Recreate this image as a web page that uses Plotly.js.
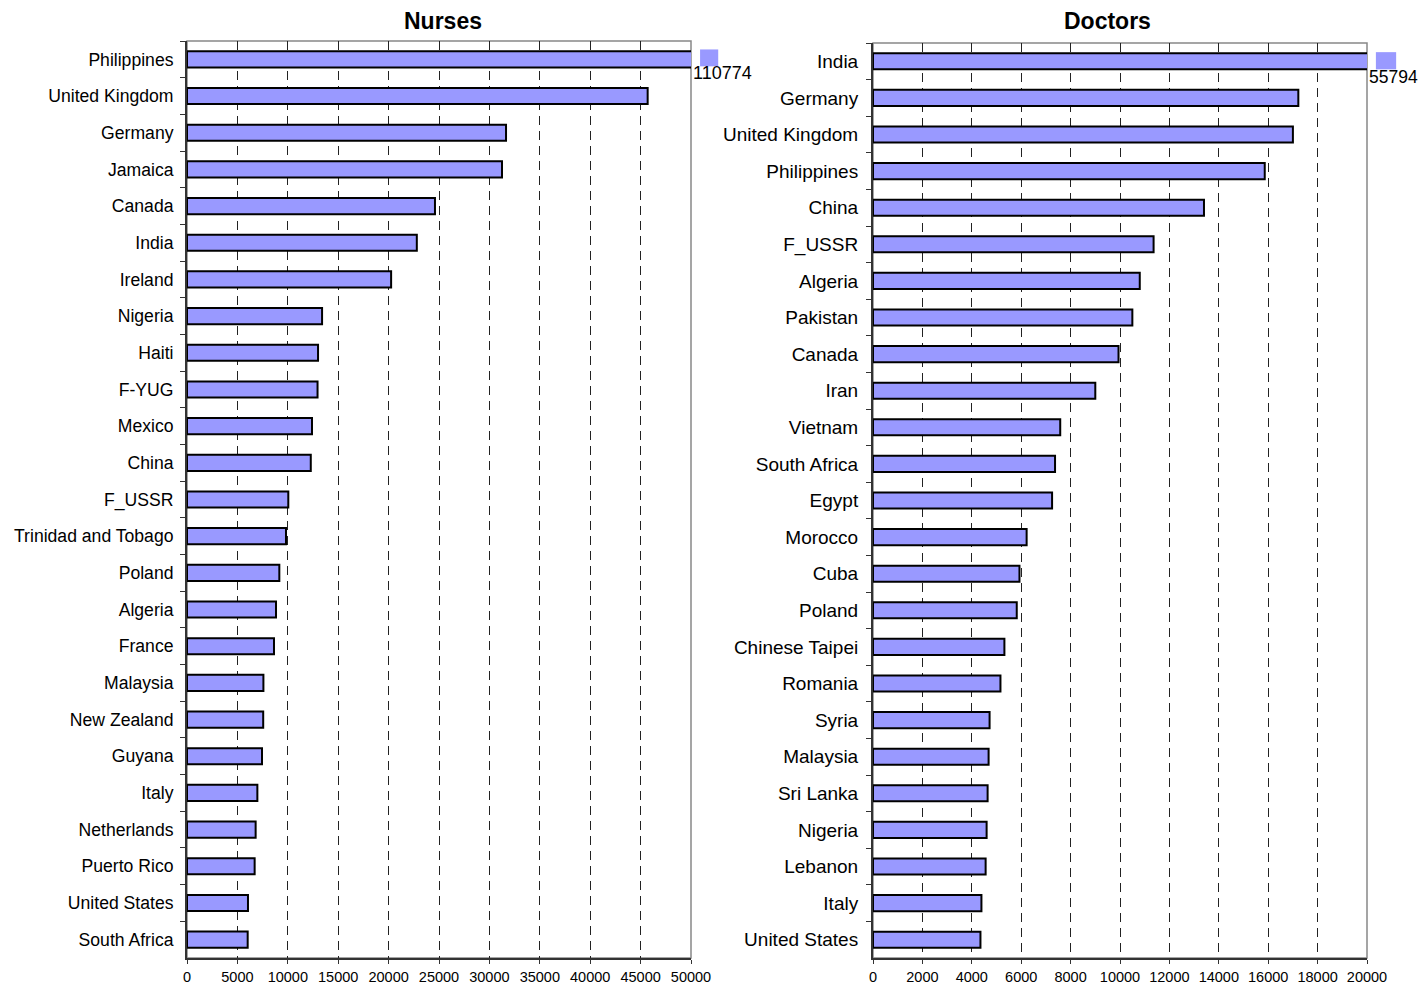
<!DOCTYPE html>
<html>
<head>
<meta charset="utf-8">
<script src="https://cdn.plot.ly/plotly-3.0.1.min.js"></script>
<style>html,body{margin:0;padding:0;background:#fff;}#chart{width:1420px;height:986px;}</style>
</head>
<body>
<div id="chart"></div>
<script>
// Nurses panel
const nurseCountries = ["Philippines","United Kingdom","Germany","Jamaica","Canada","India","Ireland","Nigeria","Haiti","F-YUG","Mexico","China","F_USSR","Trinidad and Tobago","Poland","Algeria","France","Malaysia","New Zealand","Guyana","Italy","Netherlands","Puerto Rico","United States","South Africa"];
const nurseValues = [110774,45700,31650,31250,24600,22800,20250,13400,13000,12950,12400,12280,10050,9820,9160,8830,8630,7580,7560,7440,6980,6810,6710,6050,6020];
const nurseTicks = [0,5000,10000,15000,20000,25000,30000,35000,40000,45000,50000];

// Doctors panel
const doctorCountries = ["India","Germany","United Kingdom","Philippines","China","F_USSR","Algeria","Pakistan","Canada","Iran","Vietnam","South Africa","Egypt","Morocco","Cuba","Poland","Chinese Taipei","Romania","Syria","Malaysia","Sri Lanka","Nigeria","Lebanon","Italy","United States"];
const doctorValues = [55794,17220,17000,15860,13400,11360,10800,10500,9940,9000,7580,7370,7250,6220,5930,5820,5320,5160,4720,4680,4640,4600,4560,4390,4350];
const doctorTicks = [0,2000,4000,6000,8000,10000,12000,14000,16000,18000,20000];

const nurseMax = 50000, doctorMax = 20000;
const fill = "#9999FF";
const font = "Liberation Sans, Arial, sans-serif";

const traces = [
  {type:"bar", orientation:"h", x:nurseValues, y:nurseCountries, xaxis:"x", yaxis:"y",
   width:0.44, marker:{color:fill, line:{color:"#000", width:2}}, hoverinfo:"x+y"},
  {type:"bar", orientation:"h", x:doctorValues, y:doctorCountries, xaxis:"x2", yaxis:"y2",
   width:0.44, marker:{color:fill, line:{color:"#000", width:2}}, hoverinfo:"x+y"}
];

const W=1420, H=986;
const px = v => v/W, py = v => 1 - v/H;

function xax(domain, ticks, max){
  return {domain, range:[0,max], tickvals:ticks, ticktext:ticks.map(String),
    showgrid:true, gridcolor:"#222", gridwidth:1, griddash:"9px,6px", zeroline:false,
    showline:true, linecolor:"#333", linewidth:2, ticks:"outside", ticklen:4, tickcolor:"#333",
    tickfont:{family:font, size:14.5, color:"#000"}, ticklabelstandoff:1, fixedrange:true};
}
function yax(domain, cats, anchor, standoff, fsize){
  return {domain, type:"category", categoryorder:"array", categoryarray:cats,
    range:[cats.length-0.5, -0.5], autorange:false,
    showline:true, linecolor:"#333", linewidth:2, ticks:"outside", ticklen:5, tickcolor:"#333",
    tickson:"boundaries", showgrid:false, anchor,
    tickfont:{family:font, size:fsize, color:"#000"}, ticklabelstandoff:standoff, fixedrange:true};
}

// overflow markers and labels for bars beyond the axis range
function overflow(vals, cats, max, xref, yref, y0off, y1off, x1, yshift, fsize){
  const shapes=[], ann=[];
  vals.forEach((v,i)=>{
    if(v>max){
      shapes.push({type:"rect", xref:xref+" domain", yref:yref, x0:1.018, x1:x1, y0:i+y0off, y1:i+y1off,
        fillcolor:fill, line:{width:0}, layer:"above"});
      ann.push({text:String(v), xref:xref+" domain", yref:yref, x:1.0, y:cats[i], xanchor:"left", yanchor:"middle",
        yshift:yshift, showarrow:false, font:{family:font, size:fsize, color:"#000"}});
    }
  });
  return {shapes, ann};
}
const nO = overflow(nurseValues, nurseCountries, nurseMax, "x", "y", -0.27, 0.19, 1.054, -14, 18);
const dO = overflow(doctorValues, doctorCountries, doctorMax, "x2", "y2", -0.25, 0.22, 1.059, -16, 17.5);

const layout = {
  width:W, height:H, margin:{l:0,r:0,t:0,b:0}, showlegend:false,
  paper_bgcolor:"#fff", plot_bgcolor:"#fff",
  xaxis: Object.assign(xax([px(187), px(691)], nurseTicks, nurseMax), {anchor:"y"}),
  yaxis: yax([py(958), py(41)], nurseCountries, "x", 8, 17.6),
  xaxis2: Object.assign(xax([px(873), px(1367)], doctorTicks, doctorMax), {anchor:"y2"}),
  yaxis2: yax([py(958), py(43)], doctorCountries, "x2", 9, 19),
  shapes:[
    {type:"rect", xref:"x domain", yref:"y domain", x0:0, x1:1, y0:0, y1:1, line:{color:"#888", width:1.5}, layer:"below"},
    {type:"rect", xref:"x2 domain", yref:"y2 domain", x0:0, x1:1, y0:0, y1:1, line:{color:"#888", width:1.5}, layer:"below"}
  ].concat(nO.shapes, dO.shapes),
  annotations:[
    {text:"<b>Nurses</b>", xref:"paper", yref:"paper", x:px(443), y:py(21), xanchor:"center", yanchor:"middle", showarrow:false, font:{family:font, size:23, color:"#000"}},
    {text:"<b>Doctors</b>", xref:"paper", yref:"paper", x:px(1107), y:py(21), xanchor:"center", yanchor:"middle", showarrow:false, font:{family:font, size:23, color:"#000"}}
  ].concat(nO.ann, dO.ann)
};

Plotly.newPlot("chart", traces, layout, {displayModeBar:false, staticPlot:true});
</script>
</body>
</html>
